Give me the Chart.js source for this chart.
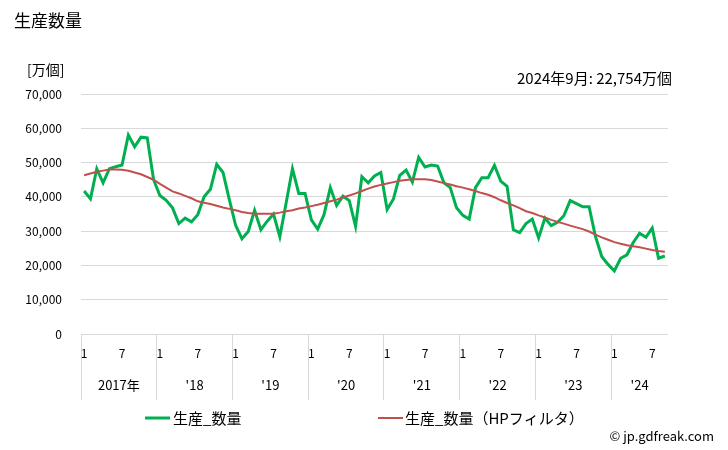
<!DOCTYPE html>
<html>
<head>
<meta charset="utf-8">
<script src="https://cdn.jsdelivr.net/npm/chart.js@4.4.0/dist/chart.umd.min.js"></script>
<style>
  body { margin: 0; background: #fff; }
  #wrap { position: relative; width: 728px; height: 450px; }
</style>
</head>
<body>
<div id="wrap"><canvas id="chart" width="728" height="450"></canvas></div>
<script>
// data (万個), Jan 2017 .. Sep 2024
const years = ["2017年", "'18", "'19", "'20", "'21", "'22", "'23", "'24"];
const monthTicks = [1, 7];
const production = [
  41700, 39400, 48200, 44100, 48200, 48800, 49300, 58000, 54600, 57400, 57200, 45000,
  40400, 39000, 36800, 32200, 33800, 32700, 34800, 40000, 42200, 49500, 47100, 39200,
  31700, 27800, 29900, 36100, 30400, 32900, 35000, 28400, 38200, 48200, 41000, 41000,
  33300, 30600, 34800, 42700, 37500, 40200, 38900, 31400, 45900, 44100, 46100, 47100,
  36300, 39400, 46300, 47800, 44300, 51500, 48700, 49300, 49000, 44100, 42700, 36800,
  34600, 33500, 42700, 45600, 45600, 49200, 44600, 43100, 30400, 29600, 32200, 33500,
  28000, 33800, 31600, 32600, 34500, 38900, 38000, 37100, 37100, 28500, 22600, 20300,
  18400, 22100, 23100, 26700, 29400, 28200, 30900, 22100, 22754
];
const hpTrend = [
  46300, 46800, 47300, 47650, 48000, 48000, 47900, 47600, 47100, 46600, 45800, 45000,
  43800, 42700, 41600, 41000, 40300, 39600, 38700, 38300, 37900, 37400, 36900, 36500,
  36100, 35600, 35300, 35100, 35100, 35100, 35100, 35400, 35800, 36100, 36600, 36900,
  37300, 37700, 38200, 38700, 39200, 39800, 40400, 41000, 41700, 42400, 43000, 43500,
  43900, 44300, 44700, 44900, 45100, 45100, 45100, 44900, 44500, 44000, 43600, 43100,
  42700, 42200, 41700, 41100, 40600, 39900, 39000, 38200, 37500, 36700, 35800, 35300,
  34600, 34000, 33300, 32700, 32200, 31600, 31100, 30600, 29900, 29000, 28200, 27500,
  26800, 26300, 25900, 25600, 25300, 24900, 24500, 24200, 24000
];

const categories = [];
for (let y = 2017; y <= 2024; y++) {
  for (let m = 1; m <= 12 && categories.length < production.length; m++) {
    categories.push(`${y}-${m}`);
  }
}

const FONT = "'Noto Sans CJK JP', 'Noto Sans', sans-serif";
const GREEN = "#00b050";
const RED = "#c0504d";
const GRID = "#d9d9d9";

// month / year labels under the category axis
const xLabels = {
  id: "xLabels",
  afterDraw(chart) {
    const { ctx, chartArea, scales: { x } } = chart;
    const half = (x.getPixelForValue(1) - x.getPixelForValue(0)) / 2;
    ctx.save();
    ctx.fillStyle = "#000";
    ctx.textAlign = "center";
    ctx.textBaseline = "middle";
    ctx.font = `12px ${FONT}`;
    categories.forEach((c, i) => {
      const m = (i % 12) + 1;
      if (monthTicks.includes(m)) {
        ctx.fillText(String(m), x.getPixelForValue(i), chartArea.bottom + 19);
      }
    });
    ctx.font = `13px ${FONT}`;
    years.forEach((label, k) => {
      const first = k * 12;
      const last = Math.min(first + 11, categories.length - 1);
      const cx = (x.getPixelForValue(first) - half + x.getPixelForValue(last) + half) / 2;
      ctx.fillText(label, cx, chartArea.bottom + 51);
    });
    ctx.restore();
  },
};

// title, unit, latest value, legend, credit
const texts = {
  id: "texts",
  afterDraw(chart) {
    const { ctx } = chart;
    ctx.save();
    ctx.fillStyle = "#000";
    ctx.textBaseline = "middle";
    ctx.font = `17px ${FONT}`;
    ctx.fillText("生産数量", 14, 21);
    ctx.font = `14px ${FONT}`;
    ctx.fillText("[万個]", 27, 70);
    ctx.textAlign = "right";
    ctx.font = `15px ${FONT}`;
    ctx.fillText("2024年9月: 22,754万個", 672, 78);
    ctx.font = `13px ${FONT}`;
    ctx.fillText("© jp.gdfreak.com", 714, 436);

    ctx.textAlign = "left";
    ctx.font = `15px ${FONT}`;
    ctx.lineWidth = 3;
    ctx.strokeStyle = GREEN;
    ctx.beginPath();
    ctx.moveTo(145, 418);
    ctx.lineTo(170, 418);
    ctx.stroke();
    ctx.fillText(chart.data.datasets[0].label, 173, 418);
    ctx.lineWidth = 2;
    ctx.strokeStyle = RED;
    ctx.beginPath();
    ctx.moveTo(378, 418);
    ctx.lineTo(403, 418);
    ctx.stroke();
    ctx.fillText(chart.data.datasets[1].label, 405, 418);
    ctx.restore();
  },
};

new Chart(document.getElementById("chart"), {
  type: "line",
  data: {
    labels: categories,
    datasets: [
      {
        label: "生産_数量",
        data: production,
        borderColor: GREEN,
        backgroundColor: GREEN,
        borderWidth: 3,
        pointRadius: 0,
        tension: 0,
        order: 2,
      },
      {
        label: "生産_数量（HPフィルタ）",
        data: hpTrend,
        borderColor: RED,
        backgroundColor: RED,
        borderWidth: 2,
        pointRadius: 0,
        tension: 0,
        order: 1,
      },
    ],
  },
  options: {
    responsive: false,
    animation: false,
    layout: { padding: { left: 0, right: 60, top: 94, bottom: 50 } },
    plugins: {
      legend: { display: false },
      tooltip: { enabled: false },
      title: { display: false },
    },
    scales: {
      x: {
        offset: true,
        border: { display: false },
        grid: {
          offset: true,
          drawOnChartArea: false,
          drawTicks: true,
          tickLength: 66,
          tickColor: (c) => (c.index % 12 === 0 || c.index === categories.length ? GRID : "rgba(0,0,0,0)"),
        },
        ticks: { display: false },
      },
      y: {
        min: 0,
        max: 70000,
        afterFit: (scale) => { scale.width = 81; },
        border: { display: false },
        grid: { color: GRID, drawTicks: false },
        ticks: {
          stepSize: 10000,
          padding: 19,
          color: "#000",
          font: { family: FONT, size: 12 },
          callback: (v) => v.toLocaleString("en-US"),
        },
      },
    },
  },
  plugins: [xLabels, texts],
});
</script>
</body>
</html>
